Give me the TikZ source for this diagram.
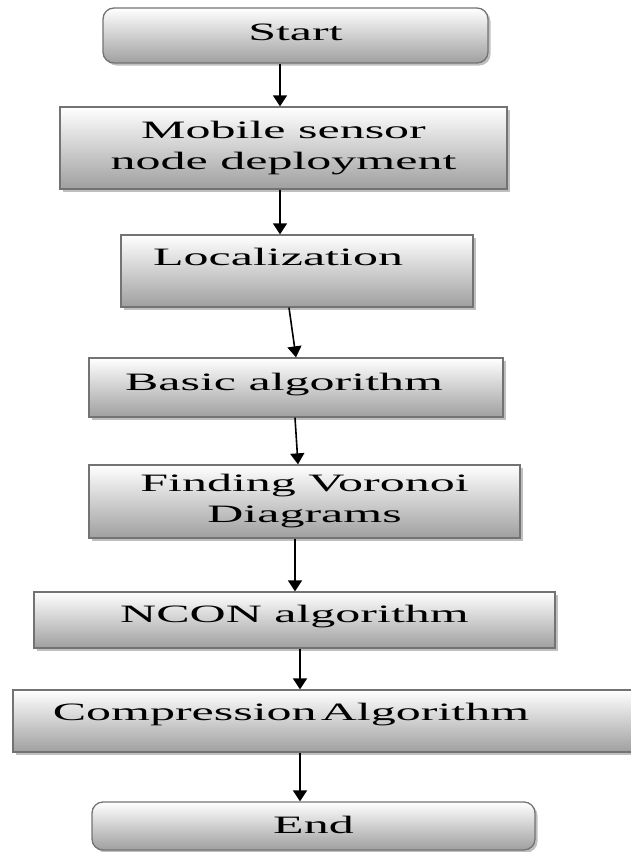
\documentclass[tikz,border=0pt]{standalone}
\usepackage{fontspec}
\setmainfont{Liberation Serif}[FakeStretch=2]
\usepackage{tikz}
\usetikzlibrary{arrows.meta,shadows,positioning}

\begin{document}
\begin{tikzpicture}
[x=1pt,y=-1pt,>={Triangle[width=14pt,length=11pt]},
box/.style = {draw=black!55, line width=1.3pt, top color=white, bottom color=gray!75,
  drop shadow={shadow xshift=2.5pt,shadow yshift=-2.5pt,fill=black!50,opacity=.5},
  inner xsep=0pt, inner ysep=0pt, font=\fontsize{25}{31}\selectfont},
term/.style = {box, rounded corners=11pt},
flow/.style = {->, line width=1.6pt},]
\useasboundingbox (0,0) rectangle (630,852);
\node (start) at (295.5,35.5) [term, minimum width=385pt, text height=32pt, text depth=23pt] {Start};
\node (deploy) at (283.5,148) [box, minimum width=447pt, minimum height=82pt, align=center] {Mobile sensor\\node deployment};
\node (local) at (297,271) [box, minimum width=352pt, text height=30pt, text depth=42pt] {Localization\hspace*{38pt}};
\node (basic) at (296,387.5) [box, minimum width=414pt, text height=32pt, text depth=27pt] {Basic algorithm\hspace*{24pt}};
\node (voronoi) at (304.5,501.5) [box, minimum width=431pt, minimum height=73pt, align=center] {Finding Voronoi\\Diagrams};
\node (ncon) at (294.5,620) [box, minimum width=521pt, text height=30pt, text depth=26pt] {NCON algorithm};
\node (compress) at (326.5,721) [box, minimum width=627pt, text height=30pt, text depth=32pt] {Compression\,Algorithm\hspace*{71pt}};
\node (finish) at (313.5,826) [term, minimum width=443pt, text height=31pt, text depth=17pt] {End};
\draw[flow] ([xshift=-15.5pt]start.south) -- ([xshift=-3.5pt]deploy.north);
\draw[flow] ([xshift=-3.5pt]deploy.south) -- ([xshift=-17pt]local.north);
\draw[flow] ([xshift=-8pt]local.south) -- (basic.north);
\draw[flow] ([xshift=-1pt]basic.south) -- ([xshift=-6.5pt]voronoi.north);
\draw[flow] ([xshift=-9.5pt]voronoi.south) -- ([xshift=0.5pt]ncon.north);
\draw[flow] ([xshift=5.5pt]ncon.south) -- ([xshift=-26.5pt]compress.north);
\draw[flow] ([xshift=-26.5pt]compress.south) -- ([xshift=-13.5pt]finish.north);
\end{tikzpicture}
\end{document}
